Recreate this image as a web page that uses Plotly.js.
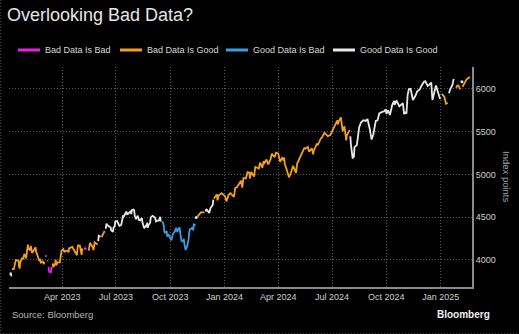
<!DOCTYPE html>
<html>
<head>
<meta charset="utf-8">
<script src="https://cdn.plot.ly/plotly-3.0.1.min.js"></script>
<style>html,body{margin:0;padding:0;background:#000;}#chart{width:519px;height:334px;}</style>
</head>
<body>
<div id="chart"></div>
<script>
// S&P 500 index level
const dates = [
'2023-01-03','2023-01-04','2023-01-05','2023-01-06','2023-01-09','2023-01-10','2023-01-11','2023-01-12','2023-01-13','2023-01-17','2023-01-18','2023-01-19','2023-01-20','2023-01-23','2023-01-25','2023-01-26','2023-01-27','2023-01-30','2023-01-31','2023-02-01','2023-02-02','2023-02-03','2023-02-06','2023-02-07','2023-02-08','2023-02-09','2023-02-10','2023-02-13','2023-02-15','2023-02-16','2023-02-17','2023-02-21','2023-02-22','2023-02-23','2023-02-24','2023-02-27','2023-02-28','2023-03-01','2023-03-02','2023-03-03','2023-03-06','2023-03-07','2023-03-08','2023-03-09','2023-03-10','2023-03-13','2023-03-14','2023-03-15','2023-03-16','2023-03-17','2023-03-20','2023-03-21','2023-03-22','2023-03-23','2023-03-24','2023-03-28','2023-03-29','2023-03-30','2023-03-31',
'2023-04-03','2023-04-05','2023-04-06','2023-04-10','2023-04-12','2023-04-13','2023-04-14','2023-04-18','2023-04-20','2023-04-21','2023-04-25','2023-04-26','2023-04-27','2023-04-28','2023-05-01','2023-05-03','2023-05-04','2023-05-05','2023-05-09','2023-05-10','2023-05-12','2023-05-16','2023-05-17','2023-05-18','2023-05-19','2023-05-23','2023-05-24','2023-05-25','2023-05-26','2023-05-31','2023-06-01','2023-06-02','2023-06-05','2023-06-07','2023-06-08','2023-06-09','2023-06-12','2023-06-13','2023-06-14','2023-06-15','2023-06-16','2023-06-20','2023-06-22','2023-06-23','2023-06-26','2023-06-27','2023-06-29','2023-06-30',
'2023-07-03','2023-07-06','2023-07-07','2023-07-10','2023-07-12','2023-07-13','2023-07-14','2023-07-18','2023-07-19','2023-07-20','2023-07-21','2023-07-24','2023-07-26','2023-07-27','2023-07-28','2023-07-31','2023-08-01','2023-08-02','2023-08-03','2023-08-04','2023-08-07','2023-08-09','2023-08-11','2023-08-14','2023-08-15','2023-08-17','2023-08-18','2023-08-21','2023-08-22','2023-08-23','2023-08-24','2023-08-25','2023-08-28','2023-08-29','2023-08-31','2023-09-01','2023-09-05','2023-09-07','2023-09-08','2023-09-12','2023-09-14','2023-09-15','2023-09-18','2023-09-20','2023-09-21','2023-09-22','2023-09-25','2023-09-26','2023-09-28','2023-09-29',
'2023-10-03','2023-10-04','2023-10-06','2023-10-09','2023-10-11','2023-10-12','2023-10-13','2023-10-16','2023-10-17','2023-10-18','2023-10-19','2023-10-20','2023-10-23','2023-10-24','2023-10-25','2023-10-26','2023-10-27','2023-10-30','2023-10-31','2023-11-01','2023-11-02','2023-11-03','2023-11-06','2023-11-08','2023-11-09','2023-11-10','2023-11-13','2023-11-14','2023-11-16','2023-11-20','2023-11-22','2023-11-24','2023-11-28','2023-11-30','2023-12-01','2023-12-04','2023-12-06','2023-12-08','2023-12-12','2023-12-13','2023-12-14','2023-12-19','2023-12-20','2023-12-22','2023-12-27','2023-12-29',
'2024-01-02','2024-01-04','2024-01-05','2024-01-08','2024-01-11','2024-01-17','2024-01-19','2024-01-22','2024-01-24','2024-01-26','2024-01-29','2024-01-31','2024-02-01','2024-02-02','2024-02-06','2024-02-09','2024-02-12','2024-02-13','2024-02-15','2024-02-20','2024-02-22','2024-02-26','2024-02-28','2024-03-01','2024-03-05','2024-03-07','2024-03-08','2024-03-12','2024-03-15','2024-03-19','2024-03-21','2024-03-26','2024-03-28',
'2024-04-01','2024-04-04','2024-04-08','2024-04-10','2024-04-11','2024-04-12','2024-04-15','2024-04-19','2024-04-22','2024-04-24','2024-04-26','2024-04-30','2024-05-01','2024-05-03','2024-05-07','2024-05-10','2024-05-15','2024-05-17','2024-05-21','2024-05-23','2024-05-28','2024-05-30','2024-05-31','2024-06-05','2024-06-07','2024-06-12','2024-06-14','2024-06-18','2024-06-21','2024-06-24','2024-06-28',
'2024-07-03','2024-07-05','2024-07-10','2024-07-11','2024-07-12','2024-07-16','2024-07-17','2024-07-19','2024-07-22','2024-07-24','2024-07-25','2024-07-26','2024-07-31','2024-08-01','2024-08-02','2024-08-05','2024-08-06','2024-08-07','2024-08-08','2024-08-12','2024-08-14','2024-08-16','2024-08-19','2024-08-23','2024-08-27','2024-08-30','2024-09-03','2024-09-06','2024-09-09','2024-09-11','2024-09-13','2024-09-16','2024-09-19','2024-09-24','2024-09-27','2024-09-30',
'2024-10-01','2024-10-04','2024-10-07','2024-10-11','2024-10-14','2024-10-15','2024-10-18','2024-10-23','2024-10-25','2024-10-29','2024-10-31','2024-11-01','2024-11-04','2024-11-06','2024-11-08','2024-11-11','2024-11-15','2024-11-19','2024-11-22','2024-11-27','2024-11-29','2024-12-04','2024-12-06','2024-12-10','2024-12-13','2024-12-16','2024-12-18','2024-12-20','2024-12-24','2024-12-27','2024-12-31',
'2025-01-03','2025-01-07','2025-01-10','2025-01-13','2025-01-15','2025-01-17','2025-01-21','2025-01-23','2025-01-27','2025-01-29','2025-01-31','2025-02-03','2025-02-06','2025-02-07','2025-02-11','2025-02-14','2025-02-18','2025-02-19'
];
const spx = [
3824,3853,3808,3895,3892,3919,3970,3983,3999,3991,3929,3899,3973,4020,4016,4060,4071,4018,4077,4119,4180,4136,4111,4164,4118,4082,4090,4137,4148,4090,4079,3997,3991,4012,3970,3982,3970,3951,3981,4046,4048,3986,3992,3918,3862,3856,3919,3892,3960,3917,3952,4003,3937,3949,3971,3971,4028,4051,4109,
4125,4090,4105,4109,4092,4146,4138,4155,4130,4134,4072,4056,4135,4169,4168,4091,4061,4136,4119,4138,4124,4110,4159,4198,4192,4146,4115,4151,4205,4180,4221,4282,4274,4268,4294,4299,4339,4369,4373,4426,4410,4389,4382,4348,4329,4378,4396,4450,
4456,4412,4399,4410,4472,4510,4505,4555,4566,4535,4536,4555,4567,4537,4582,4589,4577,4513,4502,4478,4518,4468,4464,4490,4438,4370,4370,4400,4388,4436,4376,4406,4433,4498,4508,4516,4497,4451,4457,4462,4505,4450,4454,4402,4330,4320,4337,4274,4300,4288,
4229,4264,4309,4336,4377,4350,4328,4374,4373,4315,4278,4224,4217,4248,4187,4137,4117,4167,4194,4238,4318,4358,4366,4383,4347,4415,4412,4496,4508,4547,4557,4559,4555,4568,4595,4570,4549,4604,4644,4707,4720,4768,4698,4755,4782,4770,
4743,4689,4697,4764,4780,4739,4840,4850,4869,4891,4928,4846,4906,4959,4954,5027,5022,4953,5030,4976,5087,5070,5070,5137,5079,5157,5124,5175,5117,5179,5242,5204,5254,
5244,5147,5202,5161,5199,5123,5062,4967,5011,5072,5100,5036,5018,5128,5188,5223,5308,5303,5321,5268,5306,5235,5278,5354,5347,5421,5432,5487,5465,5448,5460,
5537,5567,5634,5585,5615,5667,5588,5505,5564,5427,5399,5459,5522,5447,5347,5186,5240,5200,5319,5344,5455,5554,5608,5635,5626,5648,5529,5408,5471,5554,5626,5633,5714,5733,5738,5762,
5709,5751,5696,5815,5860,5815,5865,5797,5808,5833,5705,5729,5713,5929,5996,6001,5871,5917,5969,5999,6032,6086,6090,6035,6051,6074,5872,5931,6040,5971,5882,
5942,5909,5827,5836,5950,5997,6049,6119,6012,6039,6041,5995,6084,6026,6069,6115,6130,6144
];
// Regime changes: start date and regime code
const regimeStart = ['2023-01-03','2023-01-06','2023-03-03','2023-03-07','2023-03-09','2023-03-16','2023-05-09','2023-05-13','2023-06-01','2023-06-06','2023-06-13','2023-09-18','2023-11-14','2023-11-15','2023-11-29','2023-12-14','2024-08-01','2025-01-02','2025-01-15','2025-01-24','2025-02-04','2025-02-07'];
const regimeCode  = [3,1,0,1,0,1,0,1,3,1,3,2,3,1,3,1,3,1,3,1,3,1];
const seriesNames  = ['Bad Data Is Bad','Bad Data Is Good','Good Data Is Bad','Good Data Is Good'];
const seriesColors = ['#ee1ee8','#f4a01c','#3a9ee4','#e8e8e8'];
const tickVals = ['2023-04-01','2023-07-01','2023-10-01','2024-01-01','2024-04-01','2024-07-01','2024-10-01','2025-01-01'];
const tickText = ['Apr 2023','Jul 2023','Oct 2023','Jan 2024','Apr 2024','Jul 2024','Oct 2024','Jan 2025'];
const yTicks = [4000,4500,5000,5500,6000];

// layout geometry (pixels)
const W = 519, H = 334, ml = 9, mr = 47, mt = 67, mb = 47;
const pw = W - ml - mr, ph = H - mt - mb;
const px2x = p => (p - ml) / pw;
const py2y = p => (H - mb - p) / ph;

function regimeOf(d) {
  let r = regimeCode[0];
  for (let i = 0; i < regimeStart.length; i++) { if (regimeStart[i] <= d) r = regimeCode[i]; }
  return r;
}
const segs = [];
let cur = null;
for (let i = 0; i < dates.length; i++) {
  const r = regimeOf(dates[i]);
  if (!cur || cur.r !== r) { cur = {r: r, x: [], y: []}; segs.push(cur); }
  cur.x.push(dates[i]); cur.y.push(spx[i]);
}
const traces = segs.map(s => ({
  type: 'scatter', x: s.x, y: s.y,
  mode: s.x.length === 1 ? 'markers' : 'lines',
  line: {color: seriesColors[s.r], width: 1.8},
  marker: {color: seriesColors[s.r], size: 3},
  name: seriesNames[s.r], showlegend: false, hoverinfo: 'skip'
}));

const font = 'Liberation Sans, Arial, sans-serif';
const legX = [18, 120, 226, 333];
const shapes = [];
const annotations = [];
legX.forEach((lx, i) => {
  shapes.push({type: 'line', xref: 'paper', yref: 'paper', x0: px2x(lx), x1: px2x(lx + 22), y0: py2y(50), y1: py2y(50), line: {color: seriesColors[i], width: 3}});
  annotations.push({xref: 'paper', yref: 'paper', x: px2x(lx + 25), y: py2y(50), xanchor: 'left', yanchor: 'middle', showarrow: false, text: seriesNames[i], font: {family: font, size: 9, color: '#d8d8d8'}});
});
annotations.push({xref: 'paper', yref: 'paper', x: px2x(507), y: py2y(177), xanchor: 'center', yanchor: 'middle', showarrow: false, textangle: 90, text: 'Index points', font: {family: font, size: 9.5, color: '#a8a8a8'}});
annotations.push({xref: 'paper', yref: 'paper', x: px2x(10), y: py2y(314), xanchor: 'left', yanchor: 'middle', showarrow: false, text: 'Source: Bloomberg', font: {family: font, size: 9.5, color: '#b4b4b4'}});
annotations.push({xref: 'paper', yref: 'paper', x: px2x(492), y: py2y(314), xanchor: 'right', yanchor: 'middle', showarrow: false, text: '<b>Bloomberg</b>', font: {family: font, size: 10, color: '#f0f0f0'}});
// faint frame edges of the original image
shapes.push({type: 'line', xref: 'paper', yref: 'paper', x0: px2x(0.5), x1: px2x(0.5), y0: py2y(0), y1: py2y(334), line: {color: '#444', width: 1, dash: '1px,2px'}});
shapes.push({type: 'line', xref: 'paper', yref: 'paper', x0: px2x(0), x1: px2x(519), y0: py2y(333.5), y1: py2y(333.5), line: {color: '#444', width: 1, dash: '1px,2px'}});

const layout = {
  width: W, height: H,
  margin: {l: ml, r: mr, t: mt, b: mb, pad: 0},
  paper_bgcolor: '#000', plot_bgcolor: '#000',
  showlegend: false,
  font: {family: font, color: '#cfcfcf', size: 9},
  title: {text: 'Overlooking Bad Data?', x: 7 / W, xref: 'container', xanchor: 'left', y: 1 - 15 / H, yref: 'container', yanchor: 'middle', font: {family: font, size: 18, color: '#e6e6e6'}},
  xaxis: {
    type: 'date', range: ['2023-01-01', '2025-02-23'],
    tickvals: tickVals, ticktext: tickText, ticks: '',
    showgrid: true, gridcolor: '#5a5a5a', gridwidth: 1, griddash: '1px,2px',
    showline: true, linecolor: '#8a8a8a', linewidth: 2,
    zeroline: false, tickfont: {family: font, size: 9, color: '#cfcfcf'}, fixedrange: true
  },
  yaxis: {
    side: 'right', range: [3684, 6257], tickvals: yTicks, ticks: '',
    showgrid: true, gridcolor: '#5a5a5a', gridwidth: 1, griddash: '1px,2px',
    showline: true, linecolor: '#8a8a8a', linewidth: 2,
    zeroline: false, tickfont: {family: font, size: 9, color: '#cfcfcf'}, fixedrange: true
  },
  shapes: shapes,
  annotations: annotations
};
Plotly.newPlot('chart', traces, layout, {staticPlot: true, displayModeBar: false});
</script>
</body>
</html>
